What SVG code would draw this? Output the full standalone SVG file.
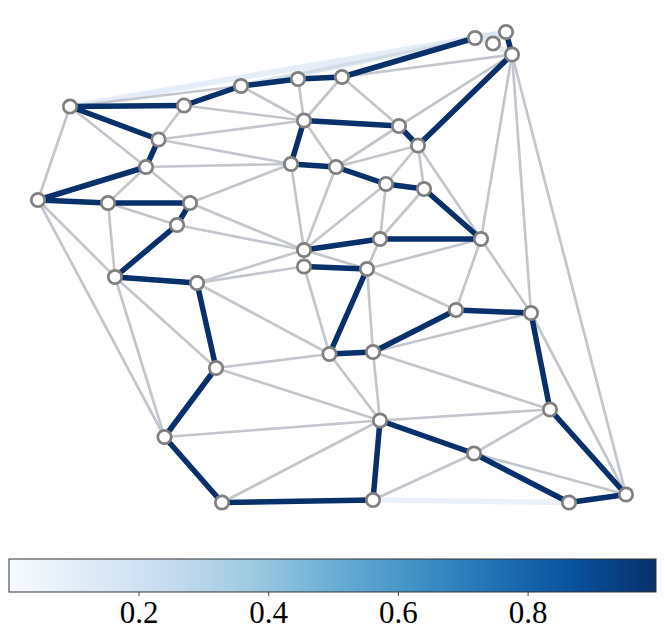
<svg xmlns="http://www.w3.org/2000/svg" width="665" height="638" viewBox="0 0 665 638">
<defs>
<style>
.g{stroke:#c3c7cd;stroke-width:2.7;fill:none;stroke-linecap:round}
.f{stroke-width:5.5;fill:none;stroke-linecap:round}
.d{stroke:#08306b;stroke-width:5.5;fill:none;stroke-linecap:round}
.node circle{fill:#ffffff;stroke:#808080;stroke-width:2.7}
.tick{stroke:#333333;stroke-width:0.9}
.lbl{font-family:"Liberation Serif","DejaVu Serif",serif;font-size:31px;fill:#000000;text-anchor:middle}
</style>
<linearGradient id="blues" x1="0" y1="0" x2="1" y2="0">
<stop offset="0" stop-color="#f7fbff"/>
<stop offset="0.125" stop-color="#deebf7"/>
<stop offset="0.25" stop-color="#c6dbef"/>
<stop offset="0.375" stop-color="#9ecae1"/>
<stop offset="0.5" stop-color="#6baed6"/>
<stop offset="0.625" stop-color="#4292c6"/>
<stop offset="0.75" stop-color="#2171b5"/>
<stop offset="0.875" stop-color="#08519c"/>
<stop offset="1" stop-color="#08306b"/>
</linearGradient>
</defs>
<rect width="665" height="638" fill="#ffffff"/>
<g id="connectors">
<line class="f" stroke="#eef4fb" x1="70" y1="106.5" x2="506" y2="32"/>
<line class="f" stroke="#e4edf8" x1="70" y1="106.5" x2="475" y2="38"/>
<line class="f" stroke="#dfe9f5" x1="241" y1="86" x2="475" y2="38"/>
<line class="f" stroke="#dae6f4" x1="475" y1="38" x2="506" y2="32"/>
<line class="f" stroke="#d6e4f3" x1="493" y1="43.5" x2="506" y2="32"/>
<line class="f" stroke="#e2ecf7" x1="493" y1="43.5" x2="512" y2="54.5"/>
<line class="f" stroke="#e2ecf7" x1="475" y1="38" x2="493" y2="43.5"/>
<line class="f" stroke="#eaf1f9" x1="373" y1="500" x2="569" y2="502.5"/>
<line class="g" x1="70" y1="106.5" x2="38" y2="200"/>
<line class="g" x1="70" y1="106.5" x2="146" y2="167"/>
<line class="g" x1="70" y1="106.5" x2="241" y2="86"/>
<line class="g" x1="241" y1="86" x2="475" y2="38" stroke-opacity="0.45"/>
<line class="g" x1="184" y1="105.5" x2="158.5" y2="139.5"/>
<line class="g" x1="184" y1="105.5" x2="304" y2="120.5"/>
<line class="g" x1="241" y1="86" x2="304" y2="120.5"/>
<line class="g" x1="298" y1="79" x2="304" y2="120.5"/>
<line class="g" x1="342" y1="77" x2="304" y2="120.5"/>
<line class="g" x1="342" y1="77" x2="399" y2="126"/>
<line class="g" x1="342" y1="77" x2="512" y2="54.5"/>
<line class="g" x1="512" y1="54.5" x2="399" y2="126"/>
<line class="g" x1="158.5" y1="139.5" x2="304" y2="120.5"/>
<line class="g" x1="158.5" y1="139.5" x2="291" y2="164"/>
<line class="g" x1="146" y1="167" x2="291" y2="164"/>
<line class="g" x1="146" y1="167" x2="108" y2="203"/>
<line class="g" x1="146" y1="167" x2="190" y2="203"/>
<line class="g" x1="291" y1="164" x2="190" y2="203"/>
<line class="g" x1="304" y1="120.5" x2="336" y2="167"/>
<line class="g" x1="399" y1="126" x2="336" y2="167"/>
<line class="g" x1="418" y1="145.5" x2="336" y2="167"/>
<line class="g" x1="418" y1="145.5" x2="386" y2="184"/>
<line class="g" x1="418" y1="145.5" x2="424" y2="189"/>
<line class="g" x1="418" y1="145.5" x2="481" y2="239"/>
<line class="g" x1="512" y1="54.5" x2="481" y2="239"/>
<line class="g" x1="512" y1="54.5" x2="531" y2="313"/>
<line class="g" x1="512" y1="54.5" x2="626" y2="494.5"/>
<line class="g" x1="291" y1="164" x2="304" y2="250"/>
<line class="g" x1="336" y1="167" x2="304" y2="250"/>
<line class="g" x1="386" y1="184" x2="304" y2="250"/>
<line class="g" x1="386" y1="184" x2="380" y2="239"/>
<line class="g" x1="424" y1="189" x2="380" y2="239"/>
<line class="g" x1="108" y1="203" x2="177" y2="225"/>
<line class="g" x1="108" y1="203" x2="115" y2="277"/>
<line class="g" x1="38" y1="200" x2="115" y2="277"/>
<line class="g" x1="38" y1="200" x2="164.5" y2="437"/>
<line class="g" x1="190" y1="203" x2="304" y2="250"/>
<line class="g" x1="177" y1="225" x2="304" y2="250"/>
<line class="g" x1="197" y1="283" x2="304" y2="250"/>
<line class="g" x1="197" y1="283" x2="304" y2="266.5"/>
<line class="g" x1="197" y1="283" x2="329.5" y2="354"/>
<line class="g" x1="304" y1="250" x2="304" y2="266.5"/>
<line class="g" x1="304" y1="250" x2="367" y2="269"/>
<line class="g" x1="380" y1="239" x2="367" y2="269" stroke="#bccbdc"/>
<line class="g" x1="367" y1="269" x2="481" y2="239"/>
<line class="g" x1="367" y1="269" x2="456" y2="310"/>
<line class="g" x1="367" y1="269" x2="373" y2="352"/>
<line class="g" x1="481" y1="239" x2="456" y2="310"/>
<line class="g" x1="481" y1="239" x2="531" y2="313"/>
<line class="g" x1="304" y1="266.5" x2="329.5" y2="354"/>
<line class="g" x1="115" y1="277" x2="216" y2="368"/>
<line class="g" x1="115" y1="277" x2="164.5" y2="437"/>
<line class="g" x1="329.5" y1="354" x2="216" y2="368"/>
<line class="g" x1="216" y1="368" x2="380" y2="420.5"/>
<line class="g" x1="164.5" y1="437" x2="380" y2="420.5"/>
<line class="g" x1="222" y1="502.5" x2="380" y2="420.5"/>
<line class="g" x1="329.5" y1="354" x2="380" y2="420.5"/>
<line class="g" x1="373" y1="352" x2="380" y2="420.5"/>
<line class="g" x1="373" y1="352" x2="531" y2="313"/>
<line class="g" x1="531" y1="313" x2="626" y2="494.5"/>
<line class="g" x1="373" y1="352" x2="550" y2="409.5"/>
<line class="g" x1="380" y1="420.5" x2="550" y2="409.5"/>
<line class="g" x1="474" y1="453.5" x2="373" y2="500"/>
<line class="g" x1="474" y1="453.5" x2="550" y2="409.5"/>
<line class="g" x1="474" y1="453.5" x2="626" y2="494.5"/>
<line class="d" x1="475" y1="38" x2="342" y2="77" stroke="#0d3a78"/>
<line class="d" x1="342" y1="77" x2="298" y2="79" stroke="#0d3a78"/>
<line class="d" x1="298" y1="79" x2="241" y2="86" stroke="#0d3a78"/>
<line class="d" x1="241" y1="86" x2="184" y2="105.5"/>
<line class="d" x1="184" y1="105.5" x2="70" y2="106.5"/>
<line class="d" x1="70" y1="106.5" x2="158.5" y2="139.5"/>
<line class="d" x1="158.5" y1="139.5" x2="146" y2="167" stroke="#18478a"/>
<line class="d" x1="146" y1="167" x2="38" y2="200" stroke="#0f3d7c"/>
<line class="d" x1="38" y1="200" x2="108" y2="203"/>
<line class="d" x1="108" y1="203" x2="190" y2="203" stroke="#0d3a78"/>
<line class="d" x1="190" y1="203" x2="177" y2="225" stroke="#0d3a78"/>
<line class="d" x1="177" y1="225" x2="115" y2="277" stroke="#123f80"/>
<line class="d" x1="115" y1="277" x2="197" y2="283"/>
<line class="d" x1="197" y1="283" x2="216" y2="368" stroke="#1a4f90"/>
<line class="d" x1="216" y1="368" x2="164.5" y2="437" stroke="#0f3d7c"/>
<line class="d" x1="164.5" y1="437" x2="222" y2="502.5"/>
<line class="d" x1="222" y1="502.5" x2="373" y2="500" stroke="#2a5590"/>
<line class="d" x1="373" y1="500" x2="380" y2="420.5" stroke="#174f96"/>
<line class="d" x1="380" y1="420.5" x2="474" y2="453.5" stroke="#0d3a78"/>
<line class="d" x1="474" y1="453.5" x2="569" y2="502.5"/>
<line class="d" x1="569" y1="502.5" x2="626" y2="494.5" stroke="#0f3d7c"/>
<line class="d" x1="626" y1="494.5" x2="550" y2="409.5"/>
<line class="d" x1="550" y1="409.5" x2="531" y2="313" stroke="#134690"/>
<line class="d" x1="531" y1="313" x2="456" y2="310"/>
<line class="d" x1="456" y1="310" x2="373" y2="352" stroke="#1b5196"/>
<line class="d" x1="373" y1="352" x2="329.5" y2="354"/>
<line class="d" x1="329.5" y1="354" x2="367" y2="269" stroke="#2566ae"/>
<line class="d" x1="367" y1="269" x2="304" y2="266.5" stroke="#0d3a78"/>
<line class="d" x1="304" y1="250" x2="380" y2="239" stroke="#1a4a8a"/>
<line class="d" x1="380" y1="239" x2="481" y2="239" stroke="#0d3a78"/>
<line class="d" x1="481" y1="239" x2="424" y2="189"/>
<line class="d" x1="424" y1="189" x2="386" y2="184"/>
<line class="d" x1="386" y1="184" x2="336" y2="167"/>
<line class="d" x1="336" y1="167" x2="291" y2="164"/>
<line class="d" x1="291" y1="164" x2="304" y2="120.5" stroke="#1a4a8a"/>
<line class="d" x1="304" y1="120.5" x2="399" y2="126" stroke="#0d3a78"/>
<line class="d" x1="399" y1="126" x2="418" y2="145.5"/>
<line class="d" x1="418" y1="145.5" x2="512" y2="54.5" stroke="#174c8e"/>
<line class="d" x1="512" y1="54.5" x2="506" y2="32" stroke="#1f5fa6"/>
</g>
<g id="n1" class="node"><circle cx="70" cy="106.5" r="6.7"/></g>
<g id="n2" class="node"><circle cx="184" cy="105.5" r="6.7"/></g>
<g id="n3" class="node"><circle cx="241" cy="86" r="6.7"/></g>
<g id="n4" class="node"><circle cx="298" cy="79" r="6.7"/></g>
<g id="n5" class="node"><circle cx="342" cy="77" r="6.7"/></g>
<g id="n6" class="node"><circle cx="475" cy="38" r="6.7"/></g>
<g id="n7" class="node"><circle cx="493" cy="43.5" r="6.7"/></g>
<g id="n8" class="node"><circle cx="506" cy="32" r="6.7"/></g>
<g id="n9" class="node"><circle cx="512" cy="54.5" r="6.7"/></g>
<g id="n10" class="node"><circle cx="158.5" cy="139.5" r="6.7"/></g>
<g id="n11" class="node"><circle cx="304" cy="120.5" r="6.7"/></g>
<g id="n12" class="node"><circle cx="399" cy="126" r="6.7"/></g>
<g id="n13" class="node"><circle cx="418" cy="145.5" r="6.7"/></g>
<g id="n14" class="node"><circle cx="146" cy="167" r="6.7"/></g>
<g id="n15" class="node"><circle cx="291" cy="164" r="6.7"/></g>
<g id="n16" class="node"><circle cx="336" cy="167" r="6.7"/></g>
<g id="n17" class="node"><circle cx="386" cy="184" r="6.7"/></g>
<g id="n18" class="node"><circle cx="424" cy="189" r="6.7"/></g>
<g id="n19" class="node"><circle cx="38" cy="200" r="6.7"/></g>
<g id="n20" class="node"><circle cx="108" cy="203" r="6.7"/></g>
<g id="n21" class="node"><circle cx="190" cy="203" r="6.7"/></g>
<g id="n22" class="node"><circle cx="177" cy="225" r="6.7"/></g>
<g id="n23" class="node"><circle cx="304" cy="250" r="6.7"/></g>
<g id="n24" class="node"><circle cx="380" cy="239" r="6.7"/></g>
<g id="n25" class="node"><circle cx="481" cy="239" r="6.7"/></g>
<g id="n26" class="node"><circle cx="304" cy="266.5" r="6.7"/></g>
<g id="n27" class="node"><circle cx="367" cy="269" r="6.7"/></g>
<g id="n28" class="node"><circle cx="115" cy="277" r="6.7"/></g>
<g id="n29" class="node"><circle cx="197" cy="283" r="6.7"/></g>
<g id="n30" class="node"><circle cx="456" cy="310" r="6.7"/></g>
<g id="n31" class="node"><circle cx="531" cy="313" r="6.7"/></g>
<g id="n32" class="node"><circle cx="329.5" cy="354" r="6.7"/></g>
<g id="n33" class="node"><circle cx="373" cy="352" r="6.7"/></g>
<g id="n34" class="node"><circle cx="216" cy="368" r="6.7"/></g>
<g id="n35" class="node"><circle cx="380" cy="420.5" r="6.7"/></g>
<g id="n36" class="node"><circle cx="550" cy="409.5" r="6.7"/></g>
<g id="n37" class="node"><circle cx="164.5" cy="437" r="6.7"/></g>
<g id="n38" class="node"><circle cx="474" cy="453.5" r="6.7"/></g>
<g id="n39" class="node"><circle cx="222" cy="502.5" r="6.7"/></g>
<g id="n40" class="node"><circle cx="373" cy="500" r="6.7"/></g>
<g id="n41" class="node"><circle cx="569" cy="502.5" r="6.7"/></g>
<g id="n42" class="node"><circle cx="626" cy="494.5" r="6.7"/></g>
<g id="colorbar">
<rect x="9" y="559" width="647" height="33" fill="url(#blues)" stroke="#333333" stroke-width="1"/>
<line class="tick" x1="139" y1="592" x2="139" y2="596"/>
<line class="tick" x1="268.7" y1="592" x2="268.7" y2="596"/>
<line class="tick" x1="398.4" y1="592" x2="398.4" y2="596"/>
<line class="tick" x1="528.1" y1="592" x2="528.1" y2="596"/>
<text class="lbl" x="139" y="623">0.2</text>
<text class="lbl" x="268.7" y="623">0.4</text>
<text class="lbl" x="398.4" y="623">0.6</text>
<text class="lbl" x="528.1" y="623">0.8</text>
</g>
</svg>
